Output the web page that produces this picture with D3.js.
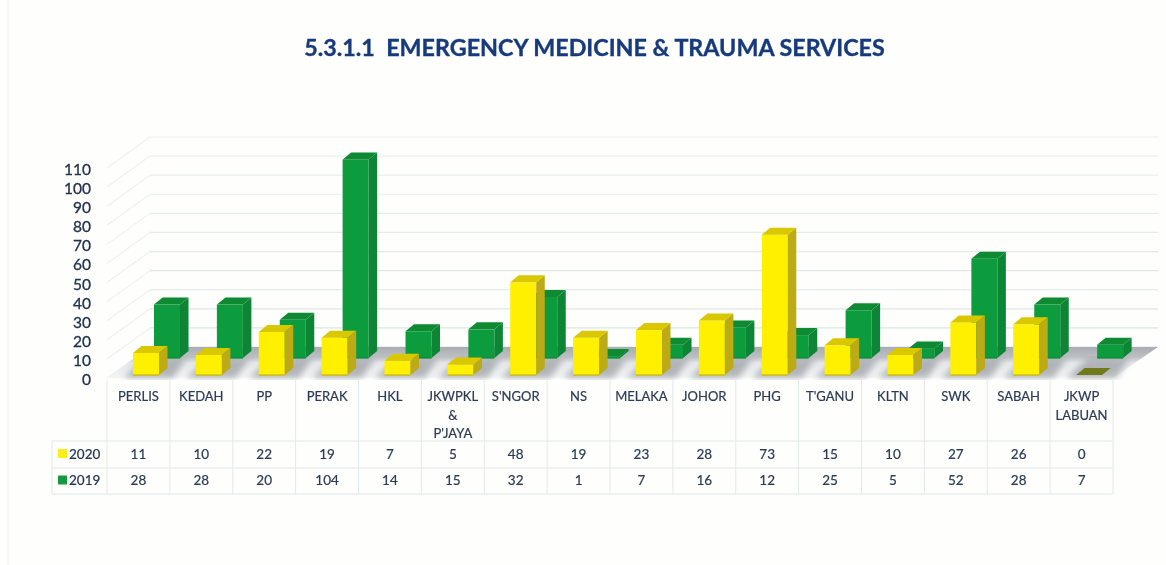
<!DOCTYPE html>
<html>
<head>
<meta charset="utf-8">
<title>Emergency Medicine & Trauma Services</title>
<script src="https://cdn.jsdelivr.net/npm/d3@7"></script>
<style>
html,body{margin:0;padding:0;background:#fefefd;overflow:hidden}
text{font-family:Lato,"Open Sans",sans-serif}
</style>
</head>
<body>
<div id="chart"></div>
<script>
var categories = ["PERLIS","KEDAH","PP","PERAK","HKL","JKWPKL|&|P'JAYA","S'NGOR","NS","MELAKA","JOHOR","PHG","T'GANU","KLTN","SWK","SABAH","JKWP|LABUAN"];
var values2020 = [11,10,22,19,7,5,48,19,23,28,73,15,10,27,26,0];
var values2019 = [28,28,20,104,14,15,32,1,7,16,12,25,5,52,28,7];
var yTicks = [0,10,20,30,40,50,60,70,80,90,100,110];
var titleText = "5.3.1.1  EMERGENCY MEDICINE & TRAUMA SERVICES";

var width = 1166, height = 565;
var left = 107, right = 1113, floorY = 378;
var wallX = 43, wallY = 31;   // how far the back wall sits from the front edge
var barW = 26, depthX = 8.5, depthY = 7;

var svg = d3.select("#chart").append("svg")
    .attr("width", width)
    .attr("height", height)
    .style("display","block");

var defs = svg.append("defs");
var soft = defs.append("filter").attr("id","soft");
soft.append("feGaussianBlur").attr("stdDeviation",0.55);
var shade = defs.append("filter").attr("id","shade").attr("x","-30%").attr("width","160%");
shade.append("feGaussianBlur").attr("stdDeviation",3);
var floorGrad = defs.append("linearGradient").attr("id","floorGrad")
    .attr("x1",0).attr("y1",0).attr("x2",0).attr("y2",1);
floorGrad.append("stop").attr("offset","0%").attr("stop-color","#a9adb2");
floorGrad.append("stop").attr("offset","32%").attr("stop-color","#bcbfc3");
floorGrad.append("stop").attr("offset","52%").attr("stop-color","#e6e8ea");
floorGrad.append("stop").attr("offset","100%").attr("stop-color","#f4f5f6");

var g = svg.append("g").attr("filter","url(#soft)");

// page edge of the scan
g.append("line").attr("x1",8).attr("x2",8).attr("y1",0).attr("y2",565)
    .attr("stroke","#f1f2f2");

g.append("text")
    .attr("x",594.5).attr("y",56)
    .attr("text-anchor","middle")
    .attr("font-size",23.3)
    .attr("font-weight",700)
    .attr("fill","#173a7c")
    .attr("stroke","#173a7c")
    .attr("stroke-width",0.35)
    .attr("xml:space","preserve")
    .text(titleText);

var x = d3.scaleBand().domain(categories).range([left,right]);
var y = d3.scaleLinear().domain([0,110]).range([floorY,168]);

// grid on back wall and side wall, it fades towards the top in the scan
var gridFade = d3.scaleLinear().domain([0,110]).range([1,0.45]);
var grid = g.append("g");
grid.selectAll(".back").data(yTicks).enter().append("line")
    .attr("class","back")
    .attr("x1",left+wallX).attr("x2",right+45)
    .attr("y1",function(d){return y(d)-wallY})
    .attr("y2",function(d){return y(d)-wallY})
    .attr("stroke","#d9e3e3").attr("stroke-width",1.2)
    .attr("opacity",function(d){return gridFade(d)});
grid.selectAll(".side").data(yTicks).enter().append("line")
    .attr("class","side")
    .attr("x1",left).attr("x2",left+wallX)
    .attr("y1",function(d){return y(d)})
    .attr("y2",function(d){return y(d)-wallY})
    .attr("stroke","#eef1f1").attr("stroke-width",1.2);

// floor
g.append("path")
    .attr("d","M"+left+","+floorY+"L"+right+","+floorY+"L"+(right+45)+","+(floorY-wallY)+"L"+(left+wallX)+","+(floorY-wallY)+"Z")
    .attr("fill","url(#floorGrad)");

// shadow each yellow bar throws back over the floor
g.append("g").selectAll("path").data(categories).enter().append("path")
    .attr("d",function(c){
        var x0 = x(c);
        return "M"+(x0+16)+",378L"+(x0+66)+",378L"+(x0+80)+",358L"+(x0+38)+",358Z";
    })
    .attr("fill","#9da1a6")
    .attr("opacity",0.75)
    .attr("filter","url(#shade)");

var series = [
    {name:"2019", values:values2019, dx:47, lift:20, topLift:20, front:"#0f9c3c", top:"#0b8a33", side:"#0b8535", zero:"#0b8a33", edge:"#0b8a33"},
    {name:"2020", values:values2020, dx:26, lift:3, topLift:4, front:"#fff000", top:"#d9c800", side:"#bcaa12", zero:"#6f7a1e", edge:"#c9b800"}
];

function barData(s){
    return categories.map(function(c,i){
        var x0 = x(c)+s.dx, v = s.values[i];
        return {x0:x0, x1:x0+barW, base:floorY-s.lift, top:v===0 ? floorY-s.lift : y(v)-s.topLift, v:v};
    });
}

series.forEach(function(s){
    var bars = g.append("g").attr("class","series-"+s.name)
        .selectAll("g").data(barData(s)).enter().append("g");
    bars.append("rect")
        .attr("x",function(d){return d.x0})
        .attr("y",function(d){return d.top})
        .attr("width",barW)
        .attr("height",function(d){return d.base-d.top})
        .attr("fill",s.front);
    // darker edge along the foot of the bar
    bars.filter(function(d){return d.v>0}).append("line")
        .attr("x1",function(d){return d.x0}).attr("x2",function(d){return d.x1})
        .attr("y1",function(d){return d.base}).attr("y2",function(d){return d.base})
        .attr("stroke",s.edge).attr("stroke-width",1.2);
    bars.append("path")
        .attr("d",function(d){
            return "M"+d.x1+","+d.top+"L"+(d.x1+depthX)+","+(d.top-depthY)+"L"+(d.x1+depthX)+","+(d.base-depthY)+"L"+d.x1+","+d.base+"Z";
        })
        .attr("fill",s.side);
    bars.append("path")
        .attr("d",function(d){
            return "M"+d.x0+","+d.top+"L"+(d.x0+depthX)+","+(d.top-depthY)+"L"+(d.x1+depthX)+","+(d.top-depthY)+"L"+d.x1+","+d.top+"Z";
        })
        .attr("fill",function(d){return d.v===0 ? s.zero : s.top});
});

// y axis
var yAxis = d3.axisLeft(y).tickValues(yTicks).tickSize(0).tickPadding(0);
var yG = g.append("g").attr("transform","translate(91,1.5)").call(yAxis);
yG.select(".domain").remove();
yG.selectAll("text")
    .attr("font-size",15.5)
    .attr("font-family","Lato")
    .attr("fill","#23324f")
    .attr("stroke","#23324f")
    .attr("stroke-width",0.3);

// data table under the chart
var rowLines = [380,441,468,494];
var tableLine = "#e3e9ea";
var table = g.append("g");
table.selectAll(".v").data(categories.concat(["end"])).enter().append("line")
    .attr("x1",function(c){return c==="end" ? right : x(c)})
    .attr("x2",function(c){return c==="end" ? right : x(c)})
    .attr("y1",rowLines[0]).attr("y2",rowLines[3])
    .attr("stroke",tableLine);
table.selectAll(".h").data(rowLines.slice(1)).enter().append("line")
    .attr("x1",52).attr("x2",right)
    .attr("y1",function(d){return d}).attr("y2",function(d){return d})
    .attr("stroke",tableLine);
table.append("line").attr("x1",52).attr("x2",52).attr("y1",rowLines[1]).attr("y2",rowLines[3]).attr("stroke",tableLine);

var catLabels = table.selectAll(".cat").data(categories).enter().append("text")
    .attr("text-anchor","middle")
    .attr("font-size",13)
    .attr("fill","#2b3a55")
    .attr("stroke","#2b3a55")
    .attr("stroke-width",0.2);
catLabels.selectAll("tspan")
    .data(function(c){return c.split("|").map(function(t,i){return {c:c,t:t,i:i}})})
    .enter().append("tspan")
    .attr("x",function(d){return x(d.c)+x.bandwidth()/2})
    .attr("y",function(d){return 401+d.i*18.5})
    .text(function(d){return d.t});

var rows = [
    {name:"2020", values:values2020, color:"#ffec1c", yy:458.5},
    {name:"2019", values:values2019, color:"#129a40", yy:485}
];
rows.forEach(function(r){
    table.append("rect").attr("x",58).attr("y",r.yy-9.5).attr("width",9).attr("height",9).attr("fill",r.color);
    table.append("text").attr("x",69).attr("y",r.yy)
        .attr("font-size",13.5).attr("fill","#23324f")
        .attr("stroke","#23324f").attr("stroke-width",0.2)
        .text(r.name);
    table.selectAll(".val"+r.name).data(r.values).enter().append("text")
        .attr("x",function(d,i){return x(categories[i])+x.bandwidth()/2})
        .attr("y",r.yy)
        .attr("text-anchor","middle")
        .attr("font-size",13.5)
        .attr("fill","#2b3a55")
        .attr("stroke","#2b3a55")
        .attr("stroke-width",0.2)
        .text(function(d){return d});
});
</script>
</body>
</html>
